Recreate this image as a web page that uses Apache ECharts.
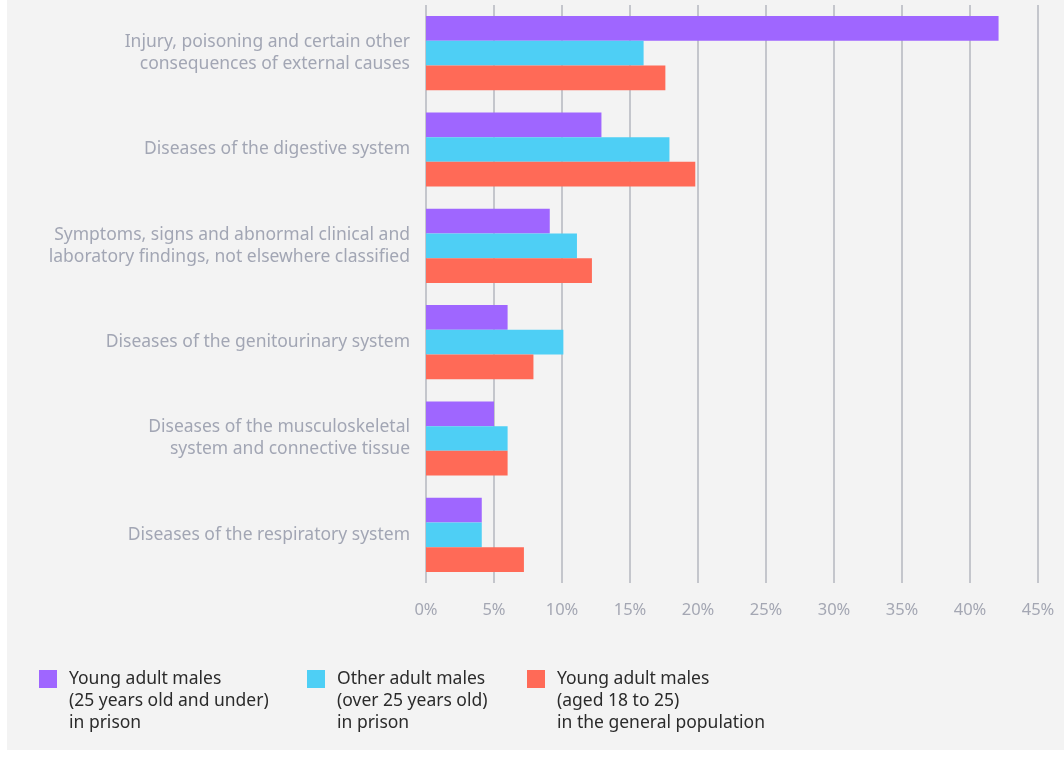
<!DOCTYPE html>
<html lang="en">
<head>
    <meta charset="UTF-8">
    <title>Causes of hospital admission</title>
    <style>
        body { margin: 0; background: #ffffff; }
        #chart { position: absolute; left: 7px; top: 0; width: 1057px; height: 750px; }
    </style>
</head>
<body>
    <div id="chart"></div>
    <script src="https://cdn.jsdelivr.net/npm/echarts@6/dist/echarts.min.js"></script>
    <script>
        var categories = [
            'Injury, poisoning and certain other\nconsequences of external causes',
            'Diseases of the digestive system',
            'Symptoms, signs and abnormal clinical and\nlaboratory findings, not elsewhere classified',
            'Diseases of the genitourinary system',
            'Diseases of the musculoskeletal\nsystem and connective tissue',
            'Diseases of the respiratory system'
        ];
        var seriesNames = [
            'Young adult males\n(25 years old and under)\nin prison',
            'Other adult males\n(over 25 years old)\nin prison',
            'Young adult males\n(aged 18 to 25)\nin the general population'
        ];
        var youngPrison = [42.1, 12.9, 9.1, 6.0, 5.0, 4.1];
        var otherPrison = [16.0, 17.9, 11.1, 10.1, 6.0, 4.1];
        var youngGeneral = [17.6, 19.8, 12.2, 7.9, 6.0, 7.2];
        var colors = ['#9f66ff', '#4ecff5', '#ff6a57'];
        var legendLeft = [32, 300, 520];

        var chart = echarts.init(document.getElementById('chart'));
        var font = '"Noto Sans", sans-serif';

        // two blank lines in front so the icon sits beside the first line
        var legends = seriesNames.map(function(name, i) {
            return {
                data: [name],
                left: legendLeft[i],
                top: 624,
                padding: 0,
                itemWidth: 18,
                itemHeight: 18,
                icon: 'rect',
                selectedMode: false,
                formatter: function(n) { return '\n\n' + n; },
                textStyle: {
                    fontFamily: font,
                    fontSize: 17.5,
                    lineHeight: 22,
                    color: '#2b2b2b',
                    padding: [0, 0, 0, 7]
                }
            };
        });

        var option = {
            backgroundColor: '#f3f3f3',
            animation: false,
            legend: legends,
            grid: { left: 419, right: 26, top: 5, bottom: 167 },
            xAxis: {
                type: 'value',
                min: 0,
                max: 45,
                interval: 5,
                axisLine: { show: false },
                axisTick: { show: false },
                splitLine: { lineStyle: { color: '#b4b7bf', width: 1.5 } },
                axisLabel: {
                    formatter: '{value}%',
                    margin: 19,
                    fontFamily: font,
                    fontSize: 16.5,
                    color: '#a4a7b3'
                }
            },
            yAxis: {
                type: 'category',
                data: categories,
                inverse: true,
                axisLine: { show: false },
                axisTick: { show: false },
                axisLabel: {
                    margin: 16,
                    fontFamily: font,
                    fontSize: 17.5,
                    lineHeight: 22,
                    color: '#a2a6b4'
                }
            },
            series: [youngPrison, otherPrison, youngGeneral].map(function(vals, i) {
                return {
                    name: seriesNames[i],
                    type: 'bar',
                    data: vals,
                    barGap: '0%',
                    barCategoryGap: '23%',
                    itemStyle: { color: colors[i] }
                };
            })
        };
        chart.setOption(option);
    </script>
</body>
</html>
